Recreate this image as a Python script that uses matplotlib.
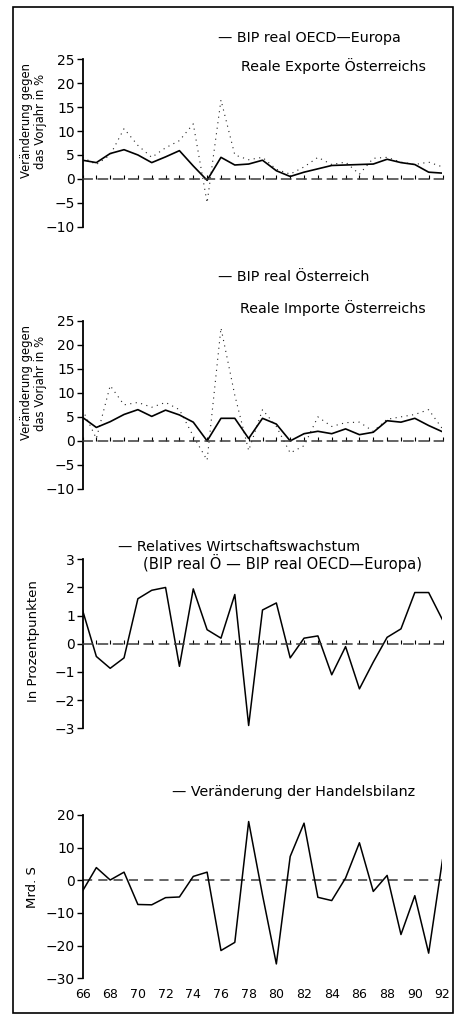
import matplotlib
matplotlib.use("Agg")
import matplotlib.pyplot as plt
from matplotlib.patches import Rectangle

plt.rcParams['font.family'] = ['DejaVu Sans']

# years 1966..1992
years = list(range(66, 93))
year_labels = [str(y) for y in range(66, 93, 2)]

# panel 1: real GDP OECD-Europe (solid) and real Austrian exports (dotted), % change
bip_oecd = [3.9, 3.4, 5.3, 6.1, 5.0, 3.4, 4.6, 5.9, 2.7, -0.3, 4.5, 2.9, 3.1, 3.9,
            1.7, 0.5, 1.4, 2.1, 2.8, 2.9, 3.0, 3.1, 4.1, 3.4, 3.0, 1.4, 1.2]
exporte = [4.5, 3.0, 5.0, 10.5, 7.0, 4.5, 6.5, 8.0, 11.5, -5.0, 16.5, 5.0, 4.0, 4.5,
           2.0, 1.0, 2.5, 4.5, 3.0, 3.5, 1.0, 4.3, 4.5, 3.5, 3.0, 3.5, 2.5]

# panel 2: real GDP Austria (solid) and real Austrian imports (dotted), % change
bip_at = [4.9, 2.8, 4.0, 5.5, 6.5, 5.1, 6.4, 5.4, 3.9, 0.0, 4.7, 4.7, 0.5, 4.7,
          3.5, 0.0, 1.5, 2.0, 1.5, 2.5, 1.3, 1.8, 4.2, 3.9, 4.7, 3.2, 1.9]
importe = [6.5, 0.5, 11.5, 7.5, 8.0, 7.0, 8.0, 6.5, 1.0, -4.0, 23.5, 9.5, -2.0, 6.5,
           3.0, -2.5, -1.0, 5.0, 3.0, 3.8, 3.9, 2.0, 4.5, 5.0, 5.5, 6.5, 2.5]

# panel 3: relative growth (GDP Austria - GDP OECD-Europe), percentage points
rel_wachstum = [1.2, -0.45, -0.87, -0.5, 1.6, 1.9, 2.0, -0.8, 1.95, 0.5, 0.2, 1.75, -2.9,
                1.2, 1.45, -0.5, 0.2, 0.28, -1.1, -0.1, -1.6, -0.65, 0.23, 0.53, 1.82, 1.82, 0.85]

# panel 4: change of trade balance, bn. S
handelsbilanz = [-3.3, 3.9, 0.1, 2.5, -7.4, -7.5, -5.3, -5.1, 1.2, 2.5, -21.5, -19.0, 18.0,
                 -4.5, -25.6, 7.3, 17.5, -5.2, -6.2, 0.7, 11.5, -3.4, 1.5, -16.6, -4.7, -22.3, 6.3]

W, H = 456, 1014
fig = plt.figure(figsize=(W / 100, H / 100), dpi=100)


def fx(px):
    return px / W


def fy(py):
    return 1 - py / H


# outer frame
fig.patches.append(Rectangle((fx(13), fy(1013)), fx(453) - fx(13), fy(7) - fy(1013),
                             transform=fig.transFigure, fill=False, lw=1.2, color='black'))

left = fx(82.5)
width = fx(442.5) - left
zero_style = (0, (6, 4))


def make_axes(top_px, bottom_px, ylim, yticks, zero_ticks=True):
    ax = fig.add_axes([left, fy(bottom_px), width, fy(top_px) - fy(bottom_px)])
    ax.set_xlim(66, 92)
    ax.set_ylim(*ylim)
    ax.set_yticks(yticks)
    ax.patch.set_visible(False)
    for s in ['top', 'right']:
        ax.spines[s].set_visible(False)
    ax.spines['left'].set_linewidth(1.3)
    ax.tick_params(axis='y', direction='out', length=4, width=1, pad=1.5, labelsize=10)
    if zero_ticks:
        # dashed zero line with small year ticks
        ax.spines['bottom'].set_position(('data', 0))
        ax.spines['bottom'].set_linestyle(zero_style)
        ax.spines['bottom'].set_linewidth(1.1)
        ax.spines['bottom'].set_color('#3a3a3a')
        ax.set_xticks(years)
        ax.tick_params(axis='x', direction='in', length=3, width=0.8, labelbottom=False)
    return ax


# panel 1
ax1 = make_axes(59.3, 226.7, (-10, 25), range(-10, 26, 5))
ax1.plot(years, exporte, color='#222222', lw=0.8, linestyle=(0, (1, 4)))
ax1.plot(years, bip_oecd, color='black', lw=1.2)
fig.text(fx(218), fy(38), '— BIP real OECD—Europa', fontsize=10.3, va='center', ha='left')
fig.text(fx(241), fy(66), 'Reale Exporte Österreichs', fontsize=10.3, va='center', ha='left')
fig.text(fx(33.5), fy(121), 'Veränderung gegen\ndas Vorjahr in %', rotation=90,
         ha='center', va='center', multialignment='center', fontsize=8.4, linespacing=1.1)

# panel 2
ax2 = make_axes(320.7, 489, (-10, 25), range(-10, 26, 5))
ax2.plot(years, importe, color='#222222', lw=0.8, linestyle=(0, (1, 4)))
ax2.plot(years, bip_at, color='black', lw=1.2)
fig.text(fx(218), fy(277), '— BIP real Österreich', fontsize=10.3, va='center', ha='left')
fig.text(fx(240), fy(308), 'Reale Importe Österreichs', fontsize=10.3, va='center', ha='left')
fig.text(fx(33.5), fy(383), 'Veränderung gegen\ndas Vorjahr in %', rotation=90,
         ha='center', va='center', multialignment='center', fontsize=8.4, linespacing=1.1)

# panel 3
ax3 = make_axes(559.3, 728.3, (-3, 3), range(-3, 4))
ax3.plot(years, rel_wachstum, color='black', lw=1.1)
fig.text(fx(118), fy(547), '— Relatives Wirtschaftswachstum', fontsize=10.3, va='center', ha='left')
fig.text(fx(143), fy(563), '(BIP real Ö — BIP real OECD—Europa)', fontsize=10.6, va='center', ha='left')
fig.text(fx(33), fy(641), 'In Prozentpunkten', rotation=90, ha='center', va='center', fontsize=9.5)

# panel 4
ax4 = make_axes(815, 978.3, (-30, 20), range(-30, 21, 10), zero_ticks=False)
ax4.spines['bottom'].set_visible(False)
ax4.axhline(0, color='#3a3a3a', lw=1.1, linestyle=zero_style)
ax4.plot(years, handelsbilanz, color='black', lw=1.1)
ax4.set_xticks(range(66, 93, 2))
ax4.set_xticklabels(year_labels)
ax4.tick_params(axis='x', length=0, pad=7, labelsize=9)
fig.text(fx(172), fy(792), '— Veränderung der Handelsbilanz', fontsize=10.3, va='center', ha='left')
fig.text(fx(33), fy(887), 'Mrd. S', rotation=90, ha='center', va='center', fontsize=9.5)

fig.savefig('out.png', dpi=100)
